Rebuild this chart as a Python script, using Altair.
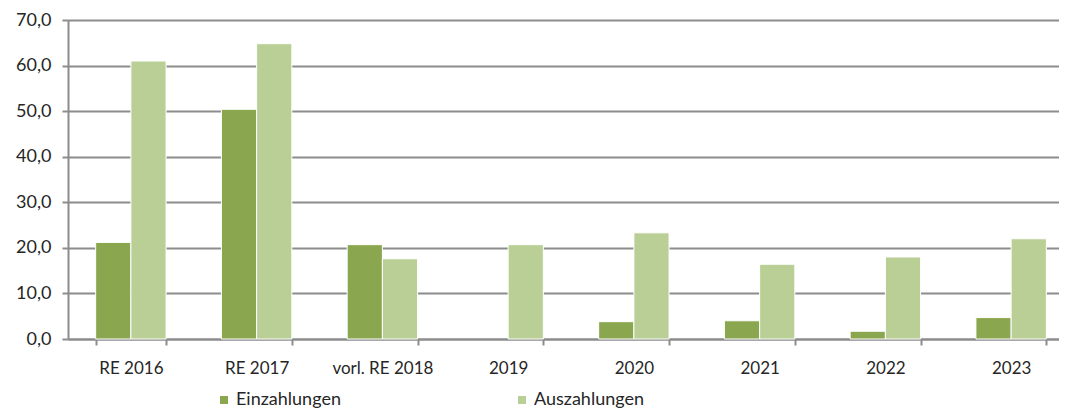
import altair as alt
import pandas as pd

categories = ["RE 2016", "RE 2017", "vorl. RE 2018", "2019", "2020", "2021", "2022", "2023"]
einzahlungen = [21.2, 50.4, 20.7, 0.0, 3.8, 4.0, 1.7, 4.7]
auszahlungen = [61.0, 64.8, 17.6, 20.7, 23.3, 16.4, 18.0, 22.0]
series = ["Einzahlungen", "Auszahlungen"]
colors = ["#8AA64E", "#BACF96"]
y_ticks = [0, 10, 20, 30, 40, 50, 60, 70]

rows = []
for c, e, a in zip(categories, einzahlungen, auszahlungen):
    rows.append({"cat": c, "series": series[0], "value": e})
    rows.append({"cat": c, "series": series[1], "value": a})
df = pd.DataFrame(rows)

FONT = "Lato"
GRID = "#8c8c8c"
TEXT = "#262626"

chart = (
    alt.Chart(df)
    .transform_filter("datum.value > 0")
    .mark_bar(stroke="white", strokeWidth=1)
    .encode(
        x=alt.X(
            "cat:N",
            sort=categories,
            scale=alt.Scale(paddingInner=0.44, paddingOuter=0.22, range=[0, 1006]),
            axis=alt.Axis(
                title=None,
                labelAngle=0,
                labelFont=FONT,
                labelFontSize=17,
                labelColor=TEXT,
                labelPadding=15,
                tickBand="extent",
                tickSize=6,
                tickColor=GRID,
                tickWidth=2,
                domainColor=GRID,
                domainWidth=2,
                grid=False,
            ),
        ),
        xOffset=alt.XOffset("series:N", sort=series, scale=alt.Scale(paddingInner=0, paddingOuter=0)),
        y=alt.Y(
            "value:Q",
            scale=alt.Scale(domain=[0, 70], nice=False),
            axis=alt.Axis(
                title=None,
                values=y_ticks,
                labelExpr="replace(format(datum.value, '.1f'), '.', ',')",
                labelFont=FONT,
                labelFontSize=18,
                labelColor=TEXT,
                labelPadding=11,
                tickSize=6,
                tickColor=GRID,
                tickWidth=2,
                domainColor=GRID,
                domainWidth=2,
                grid=True,
                gridColor=GRID,
                gridWidth=2,
            ),
        ),
        color=alt.Color(
            "series:N",
            sort=series,
            scale=alt.Scale(domain=series, range=colors),
            legend=alt.Legend(
                title=None,
                orient="none",
                legendX=147,
                legendY=371,
                direction="horizontal",
                columns=2,
                columnPadding=172,
                symbolType="square",
                symbolSize=64,
                symbolStrokeWidth=0,
                labelFont=FONT,
                labelFontSize=18,
                labelColor=TEXT,
                labelOffset=3,
                padding=0,
            ),
        ),
    )
    .properties(
        width=991,
        height=319,
        autosize=alt.AutoSizeParams(type="none"),
        padding={"left": 60, "top": 12, "right": 0, "bottom": 71},
    )
    .configure_view(stroke=None)
)

chart.save("out.html", embed_options={"renderer": "svg", "actions": False})
